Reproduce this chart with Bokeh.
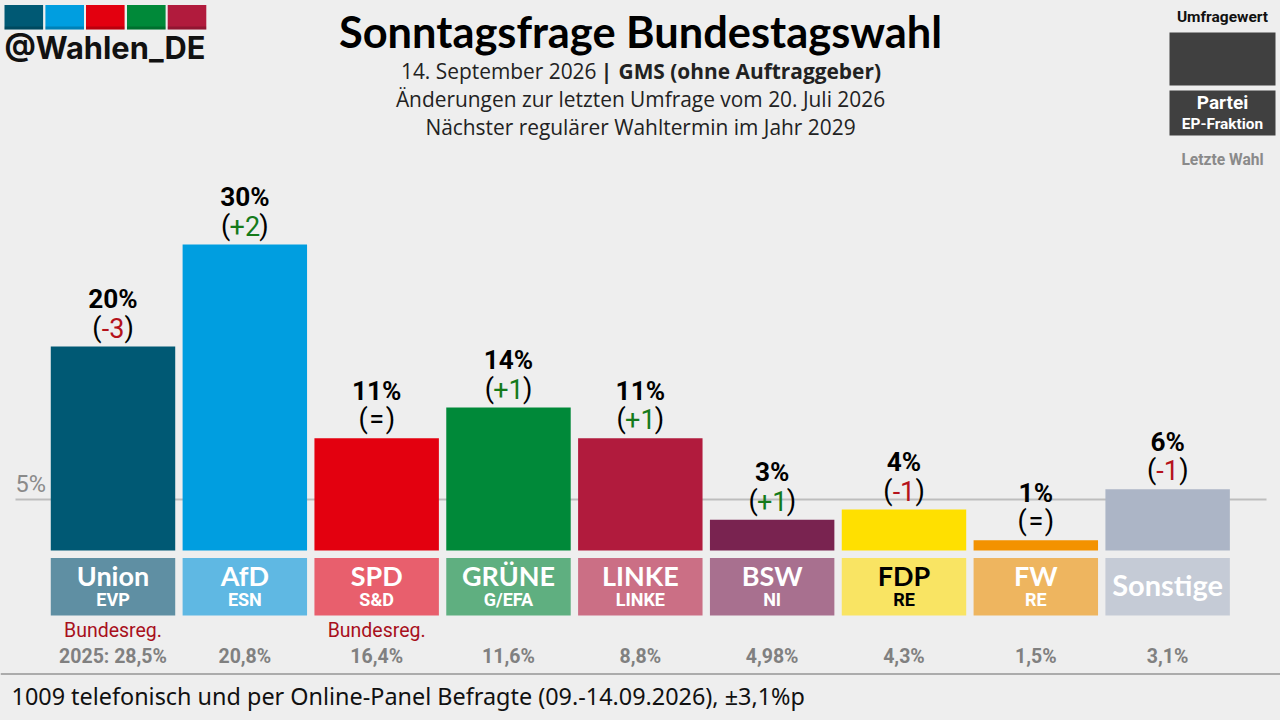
from bokeh.plotting import figure
from bokeh.models import Range1d
from bokeh.core.properties import value
from bokeh.embed import file_html
from bokeh.resources import INLINE

# ---------- data ----------
parties = ["Union", "AfD", "SPD", "GRÜNE", "LINKE", "BSW", "FDP", "FW", "Sonstige"]
groups = ["EVP", "ESN", "S&D", "G/EFA", "LINKE", "NI", "RE", "RE", ""]
values = [20, 30, 11, 14, 11, 3, 4, 1, 6]
changes = ["-3", "+2", "=", "+1", "+1", "+1", "-1", "=", "-1"]
last_vote = ["2025: 28,5%", "20,8%", "16,4%", "11,6%", "8,8%", "4,98%", "4,3%", "1,5%", "3,1%"]
government = ["Bundesreg.", "", "Bundesreg.", "", "", "", "", "", ""]
bar_colors = ["#005974", "#009EE0", "#E3000F", "#008939", "#B11B3D", "#792350", "#FFE000", "#F39200", "#ACB5C6"]
box_colors = ["#5F8FA3", "#5FB8E3", "#E85F6D", "#5FAF80", "#CB6F85", "#A8708F", "#F9E463", "#EEB55F", "#C5CBD6"]
box_text = ["white", "white", "white", "white", "white", "white", "black", "white", "white"]
logo_colors = ["#005974", "#009EE0", "#E3000F", "#008939", "#B11B3D"]

BG = "#EEEEEE"
W, H = 1280, 720
PX = 10.2      # pixels per percent
STEP = 131.83  # pixels per category
X0, Y0 = 112.5, 549.9  # reference pixel of category 0 / value 0
DROP = 0.36    # the renderer sets alphabetic text this many em too low

def xv(px):
    return (px - X0) / STEP

def yv(py):
    return (Y0 - py) / PX

p = figure(width=W, height=H, output_backend="svg", toolbar_location=None,
           x_range=Range1d(xv(0), xv(W)), y_range=Range1d(yv(H), yv(0)),
           min_border=0, background_fill_color=BG, border_fill_color=BG,
           outline_line_color=None)
p.axis.visible = False
p.grid.visible = False

def text(x, y, s, size, color="black", bold=False, font="Roboto", align="center"):
    """x, y are in reference-picture pixels"""
    p.text(x=[xv(x)], y=[yv(y - DROP * size)], text=[s], text_font=value(font),
           text_font_size=value(f"{size}px"),
           text_color=color, text_font_style="bold" if bold else "normal",
           text_align=align, text_baseline="alphabetic")

xs = list(range(len(parties)))

# threshold
p.segment(x0=[xv(15)], x1=[xv(1266)], y0=[5], y1=[5], line_color="#BDBDBD", line_width=2)
text(15, 492, "5%", 23.5, "#8A8A8A", align="left")

# bars
p.vbar(x=xs, top=values, bottom=0, width=0.944, fill_color=bar_colors, line_color=None)
# party boxes
p.vbar(x=xs, top=yv(557.5), bottom=yv(615), width=0.944, fill_color=box_colors, line_color=None)

for i, party in enumerate(parties):
    cx = X0 + STEP * i
    top = Y0 - values[i] * PX
    text(cx, top - 38, f"{values[i]}%", 26.2, "black", True)
    ch = changes[i]
    ch_color = "black" if ch == "=" else ("#B5121B" if ch[0] == "-" else "#157A1A")
    half = 9 if ch == "=" else (11.5 if ch[0] == "-" else 14.5)
    text(cx - half, top - 9, "(", 27, "black", align="right")
    text(cx, top - 9, ch, 27, ch_color)
    text(cx + half, top - 9, ")", 27, "black", align="left")
    if groups[i]:
        text(cx, 585, party, 27, box_text[i], True, font="Lato")
        text(cx, 605, groups[i], 18, box_text[i], True)
    else:
        text(cx, 594, party, 29, box_text[i], True, font="Lato")
    if government[i]:
        text(cx, 637, government[i], 19.5, "#A8101C")
    text(cx, 663.5, last_vote[i], 19.5, "#808080", True)

# header
text(640, 46.5, "Sonntagsfrage Bundestagswahl", 43.4, "black", True, font="Lato")
text(596, 78, "14. September 2026", 20.9, "#222222", font="Open Sans", align="right")
text(606, 78, "|", 20.9, "#222222", True, font="Open Sans")
text(618, 78, "GMS (ohne Auftraggeber)", 20.9, "#222222", True, font="Open Sans", align="left")
text(640, 106, "Änderungen zur letzten Umfrage vom 20. Juli 2026", 20.9, "#222222", font="Open Sans")
text(640, 134, "Nächster regulärer Wahltermin im Jahr 2029", 20.9, "#222222", font="Open Sans")

# logo
lx = [xv(a) for a in (23.3, 64.2, 104.8, 145.8, 186.5)]
p.rect(x=lx, y=yv(16.7), width=38.6 / STEP, height=24.6 / PX, fill_color=logo_colors, line_color=None)
p.rect(x=lx, y=yv(27.5), width=38.6 / STEP, height=3 / PX, fill_color="black", fill_alpha=0.18, line_color=None)
text(4, 58, "@Wahlen_DE", 30.8, "#111111", True, font="Inter", align="left")

# legend
p.quad(left=[xv(1169)], right=[xv(1275)], top=[yv(32)], bottom=[yv(85)], fill_color="#404040", line_color=None)
p.quad(left=[xv(1169)], right=[xv(1275)], top=[yv(90)], bottom=[yv(135)], fill_color="#404040", line_color=None)
text(1222, 22, "Umfragewert", 15.5, "#111111", True)
text(1222, 109, "Partei", 19, "white", True)
text(1222, 129, "EP-Fraktion", 15.4, "white", True)
text(1222, 165.5, "Letzte Wahl", 15.6, "#8A8A8A", True)

# footer
p.segment(x0=[xv(0)], x1=[xv(1280)], y0=[yv(673.5)], y1=[yv(673.5)], line_color="#ABABAB", line_width=2)
text(11, 704, "1009 telefonisch und per Online-Panel Befragte (09.-14.09.2026), ±3,1%p", 23.4, "#111111", font="Noto Sans", align="left")

html = file_html(p, INLINE).replace("<body>", f'<body style="background:{BG}">')
open("out.html", "w").write(html)
